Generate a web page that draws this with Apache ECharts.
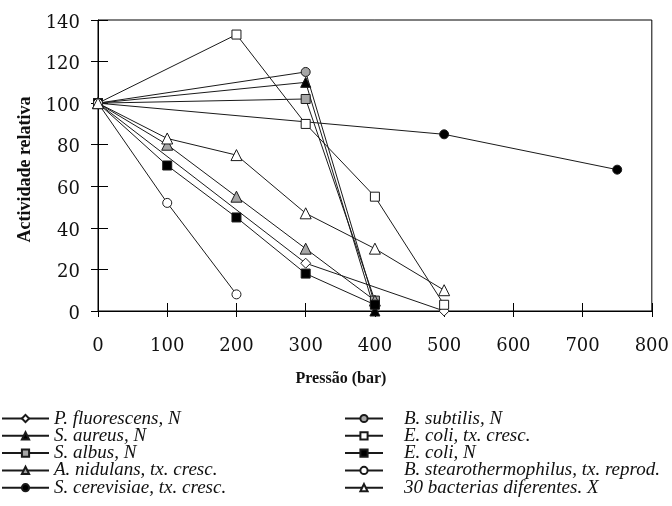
<!DOCTYPE html>
<html>
<head>
<meta charset="utf-8">
<script src="https://cdn.jsdelivr.net/npm/echarts@6/dist/echarts.min.js"></script>
<style>
  html, body { margin: 0; padding: 0; background: #fff; }
  #chart { width: 672px; height: 506px; }
</style>
</head>
<body>
<div id="chart"></div>
<script>
// Pressure (bar) and relative activity (%) for each organism
const xTicks = [0, 100, 200, 300, 400, 500, 600, 700, 800];
const yTicks = [0, 20, 40, 60, 80, 100, 120, 140];

const pFluorescensX = [0, 300, 500];
const pFluorescensY = [100, 23, 0];
const sAureusX = [0, 300, 400];
const sAureusY = [100, 110, 0];
const sAlbusX = [0, 300, 400];
const sAlbusY = [100, 102, 5];
const aNidulansX = [0, 100, 200, 300, 400];
const aNidulansY = [100, 80, 55, 30, 5];
const sCerevisiaeX = [0, 500, 750];
const sCerevisiaeY = [100, 85, 68];
const bSubtilisX = [0, 300, 400];
const bSubtilisY = [100, 115, 3];
const eColiCrescX = [0, 200, 300, 400, 500];
const eColiCrescY = [100, 133, 90, 55, 3];
const eColiNX = [0, 100, 200, 300, 400];
const eColiNY = [100, 70, 45, 18, 3];
const bStearoX = [0, 100, 200];
const bStearoY = [100, 52, 8];
const bact30X = [0, 100, 200, 300, 400, 500];
const bact30Y = [100, 83, 75, 47, 30, 10];

const seriesNames = [
  'P. fluorescens, N',
  'S. aureus, N',
  'S. albus, N',
  'A. nidulans, tx. cresc.',
  'S. cerevisiae, tx. cresc.',
  'B. subtilis, N',
  'E. coli, tx. cresc.',
  'E. coli, N',
  'B. stearothermophilus, tx. reprod.',
  '30 bacterias diferentes. X'
];

const pair = (xs, ys) => xs.map((x, i) => [x, ys[i]]);

const seriesDefs = [
  { data: pair(pFluorescensX, pFluorescensY), symbol: 'diamond', fill: '#fff', size: 10 },
  { data: pair(sAureusX, sAureusY), symbol: 'triangle', fill: '#000', size: 10 },
  { data: pair(sAlbusX, sAlbusY), symbol: 'rect', fill: '#a6a6a6', size: 9 },
  { data: pair(aNidulansX, aNidulansY), symbol: 'triangle', fill: '#a6a6a6', size: 11 },
  { data: pair(sCerevisiaeX, sCerevisiaeY), symbol: 'circle', fill: '#000', size: 9 },
  { data: pair(bSubtilisX, bSubtilisY), symbol: 'circle', fill: '#a6a6a6', size: 9 },
  { data: pair(eColiCrescX, eColiCrescY), symbol: 'rect', fill: '#fff', size: 9 },
  { data: pair(eColiNX, eColiNY), symbol: 'rect', fill: '#000', size: 9 },
  { data: pair(bStearoX, bStearoY), symbol: 'circle', fill: '#fff', size: 9 },
  { data: pair(bact30X, bact30Y), symbol: 'triangle', fill: '#fff', size: 11 }
];

const series = seriesDefs.map((d, i) => ({
  name: seriesNames[i],
  type: 'line',
  data: d.data,
  symbol: d.symbol,
  symbolSize: d.size,
  showAllSymbol: true,
  clip: false,
  lineStyle: { color: '#1a1a1a', width: 1 },
  itemStyle: { color: d.fill, borderColor: '#1a1a1a', borderWidth: 1 },
  emphasis: { disabled: true },
  animation: false,
  z: 3
}));

const labelFont = 'DejaVu Serif';
const serif = 'Liberation Serif';

const axisLineStyle = { lineStyle: { color: '#000', width: 1 } };

const legendText = { fontFamily: serif, fontStyle: 'italic', fontSize: 19, color: '#111', lineHeight: 18 };

const chart = echarts.init(document.getElementById('chart'), null, { renderer: 'canvas' });
chart.setOption({
  animation: false,
  backgroundColor: '#fff',
  grid: {
    left: 98, top: 20, right: 20, bottom: 195,
    show: true, borderColor: '#000', borderWidth: 1, backgroundColor: 'transparent'
  },
  xAxis: [
    {
      type: 'value', min: xTicks[0], max: xTicks[xTicks.length - 1], interval: 100,
      axisLine: axisLineStyle,
      axisTick: { show: true, inside: false, length: 6, lineStyle: { color: '#000' } },
      axisLabel: { margin: 26, fontFamily: labelFont, fontSize: 18, color: '#111' },
      splitLine: { show: false },
      name: 'Pressão (bar)', nameLocation: 'middle', nameGap: 60,
      nameTextStyle: { fontFamily: serif, fontWeight: 'bold', fontSize: 16, color: '#111', padding: [0, 68, 0, 0] }
    },
    {
      type: 'value', min: xTicks[0], max: xTicks[xTicks.length - 1], interval: 100,
      position: 'bottom', gridIndex: 0,
      axisLine: { show: false },
      axisTick: { show: true, inside: true, length: 8, lineStyle: { color: '#000' } },
      axisLabel: { show: false },
      splitLine: { show: false }
    }
  ],
  yAxis: [
    {
      type: 'value', min: yTicks[0], max: yTicks[yTicks.length - 1], interval: 20,
      axisLine: { show: true, ...axisLineStyle },
      axisTick: { show: true, inside: false, length: 7, lineStyle: { color: '#000' } },
      axisLabel: { margin: 18, fontFamily: labelFont, fontSize: 18, color: '#111', verticalAlign: 'top', lineHeight: 6 },
      splitLine: { show: false },
      name: 'Actividade relativa', nameLocation: 'middle', nameGap: 63, nameRotate: 90,
      nameTextStyle: { fontFamily: serif, fontWeight: 'bold', fontSize: 18, color: '#111', padding: [0, 8, 0, 0] }
    },
    {
      type: 'value', min: yTicks[0], max: yTicks[yTicks.length - 1], interval: 20,
      position: 'left', gridIndex: 0,
      axisLine: { show: false },
      axisTick: { show: true, inside: true, length: 10, lineStyle: { color: '#000' } },
      axisLabel: { show: false },
      splitLine: { show: false }
    }
  ],
  legend: [
    {
      data: seriesNames.slice(0, 5),
      orient: 'vertical', left: 1, top: 409, height: 100, padding: 0,
      itemWidth: 47, itemHeight: 9, itemGap: -1.7,
      textStyle: legendText,
      selectedMode: false
    },
    {
      data: seriesNames.slice(5),
      orient: 'vertical', left: 344, top: 409, height: 100, padding: 0,
      itemWidth: 38, itemHeight: 9, itemGap: -1.7,
      textStyle: { ...legendText, padding: [0, 0, 0, 16] },
      selectedMode: false
    }
  ],
  series: series
});
</script>
</body>
</html>
